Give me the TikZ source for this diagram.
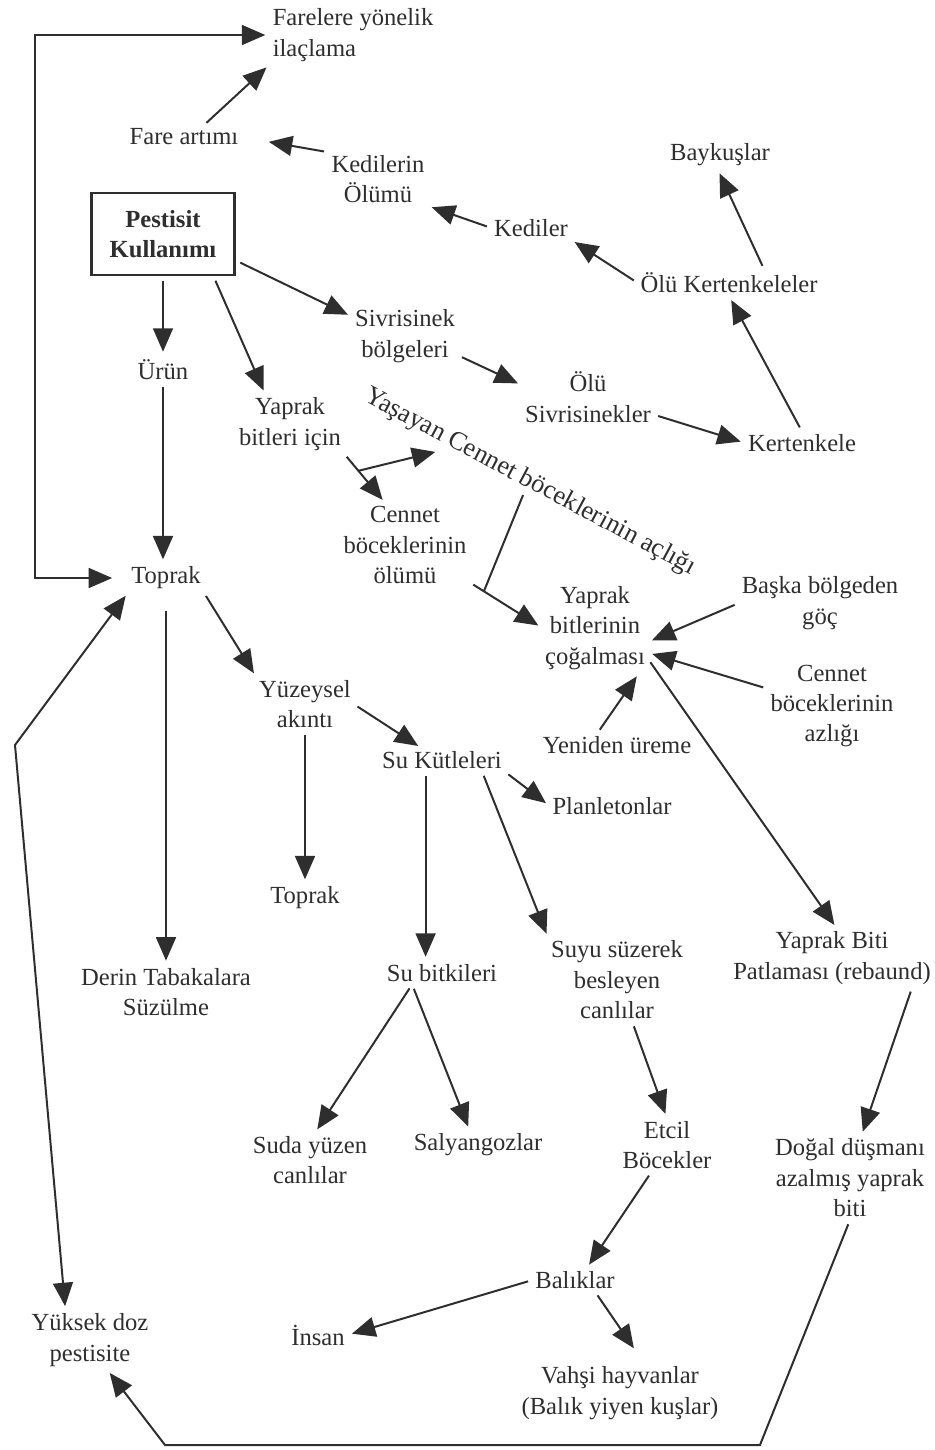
\documentclass[tikz,border=0pt]{standalone}
\usepackage{fontspec}
\setmainfont{Liberation Serif}
\usetikzlibrary{arrows.meta,positioning,calc}
\definecolor{ink}{HTML}{2E2E2E}

\begin{document}
\begin{tikzpicture}[x=0.015cm,y=-0.015cm,
  lbl/.style={align=center,inner sep=1pt,text=ink,font=\fontsize{10.5}{13}\selectfont},
  pbox/.style={draw=ink,line width=1.2pt,align=center,text=ink,font=\fontsize{10.5}{13}\selectfont\bfseries,minimum width=2.15cm,minimum height=1.23cm},
  arr/.style={->,>={Triangle[length=10pt,width=8.5pt]},draw=ink,line width=0.85pt,shorten >=2pt,shorten <=2pt}]
\useasboundingbox (0,0) rectangle (934,1450);

% Rodents, cats, lizards
\draw(270,35) node[lbl,anchor=west,align=left](farel){Farelere yönelik\\ilaçlama};
\draw(184,137) node[lbl](fare){Fare artımı};
\draw(378,179) node[lbl](kedol){Kedilerin\\Ölümü};
\draw(720,155) node[lbl](bayk){Baykuşlar};
\draw(531,228) node[lbl](kedi){Kediler};
\draw(729,283) node[lbl](olukert){Ölü Kertenkeleler};
\draw(163,234) node[pbox](pest){Pestisit\\Kullanımı};
\node[below=1.2cm of pest,lbl](urun){Ürün};
\draw(405,336) node[lbl](sivri){Sivrisinek\\bölgeleri};
\draw(588,397) node[lbl](olusiv){Ölü\\Sivrisinekler};
\draw(802,443) node[lbl](kert){Kertenkele};
% Aphids
\draw(290,424) node[lbl](yapbit){Yaprak\\bitleri için};
\draw(530,482) node[lbl,rotate=-28,font=\fontsize{11.2}{13}\selectfont](yasayan){Yaşayan Cennet böceklerinin açlığı};
\draw(405,545) node[lbl](cenol){Cennet\\böceklerinin\\ölümü};
\draw(595,628) node[lbl](yapcog){Yaprak\\bitlerinin\\çoğalması};
\draw(820,603) node[lbl](baska){Başka bölgeden\\göç};
\draw(832,706) node[lbl](cenaz){Cennet\\böceklerinin\\azlığı};
\draw(617,745) node[lbl](yeni){Yeniden üreme};
% Soil and water
\draw(166,578) node[lbl](toprak){Toprak};
\node[below=5.6cm of toprak,lbl](derin){Derin Tabakalara\\Süzülme};
\draw(305,704) node[lbl](yuzey){Yüzeysel\\akıntı};
\node[below=2.3cm of yuzey,lbl](toprakb){Toprak};
\draw(442,760) node[lbl](sukut){Su Kütleleri};
\draw(612,806) node[lbl](plank){Planletonlar};
\node[below=2.85cm of sukut,lbl](subit){Su bitkileri};
\draw(617,980) node[lbl](suyu){Suyu süzerek\\besleyen\\canlılar};
\draw(832,958) node[lbl](patla){Yaprak Biti\\Patlaması (rebaund)};
\draw(310,1160) node[lbl](suda){Suda yüzen\\canlılar};
\draw(478,1145) node[lbl](salya){Salyangozlar};
\draw(667,1145) node[lbl](etcil){Etcil\\Böcekler};
\draw(850,1178) node[lbl](dogal){Doğal düşmanı\\azalmış yaprak\\biti};
\draw(575,1280) node[lbl](balik){Balıklar};
\draw(90,1340) node[lbl](yuksek){Yüksek doz\\pestisite};
\draw(318,1335) node[lbl](insan){İnsan};
\draw(620,1393) node[lbl](vahsi){Vahşi hayvanlar\\(Balık yiyen kuşlar)};

% Arrows
\coordinate (loopc) at (35,578);
\draw[arr,<->,shorten >=7pt] (farel.west) -| (loopc) -- (toprak.west);
\draw[arr] (fare.30) -- (farel.south west);
\draw[arr,shorten >=12pt] (kedol.north west) -- (fare.east);
\draw[arr] (kedi.west) -- (kedol.south east);
\draw[arr] (olukert.west) -- (kedi.south east);
\draw[arr] (olukert.20) -- (bayk.-100);
\draw[arr] (kert.north) -- (olukert.south);
\draw[arr] (olusiv.-15) -- (kert.west);
\draw[arr] (sivri.-20) -- (olusiv.170);
\draw[arr] (pest.-20) -- (sivri.160);
\draw[arr] (pest) -- (urun);
\draw[arr] (pest.-40) -- (yapbit.130);
\draw[arr] (urun) -- (urun |- toprak.north);
\draw[arr] (yapbit.south east) -- (cenol.115) coordinate[pos=0.35](brk);
\draw[arr,shorten <=0pt] (brk) -- ($(yasayan.south west)!0.25!(yasayan.south east)$);
\draw[arr] (cenol.-30) -- (yapcog.west) coordinate[pos=0.2](mrg);
\draw[draw=ink,line width=0.85pt] (yasayan.south) -- (mrg);
\draw[arr] (baska.west) -- (yapcog.-15);
\draw[arr] (cenaz.165) -- (yapcog.-25);
\draw[arr] (yeni.150) -- (yapcog.-45);
\draw[arr] (yapcog.-30) -- (patla.80);
% Arrows (soil, water)
\draw[arr] (toprak.south east) -- (yuzey.north west);
\draw[arr,shorten <=8pt] (toprak) -- (derin);
\draw[arr] (yuzey.east) -- (sukut.150);
\draw[arr] (yuzey) -- (toprakb);
\draw[arr] (sukut.south east) -- (plank.west);
\draw[arr] (sukut.-16) -- (suyu.north west);
\draw[arr] ([xshift=-7pt]sukut.south) -- ([xshift=-7pt]subit.north);
\draw[arr] (subit.-159) -- (suda.80);
\draw[arr] (subit.-159) -- (salya.120);
\draw[arr] (suyu.-70) -- (etcil.north);
\draw[arr] (patla.-20) -- (dogal.75);
\draw[arr] (etcil.-120) -- (balik.45);
\draw[arr] (balik.west) -- (insan.east);
\draw[arr,shorten >=8pt] (balik.-30) -- (vahsi.50);
% Feedback
\coordinate (botr) at (760,1445);
\coordinate (botl) at (165,1445);
\draw[arr] (dogal.south) -- (botr) -- (botl) -- (yuksek.-60);
\coordinate (lbend) at (15,745);
\draw[arr,<->] (toprak.south west) -- (lbend) -- (yuksek.130);

\end{tikzpicture}
\end{document}
